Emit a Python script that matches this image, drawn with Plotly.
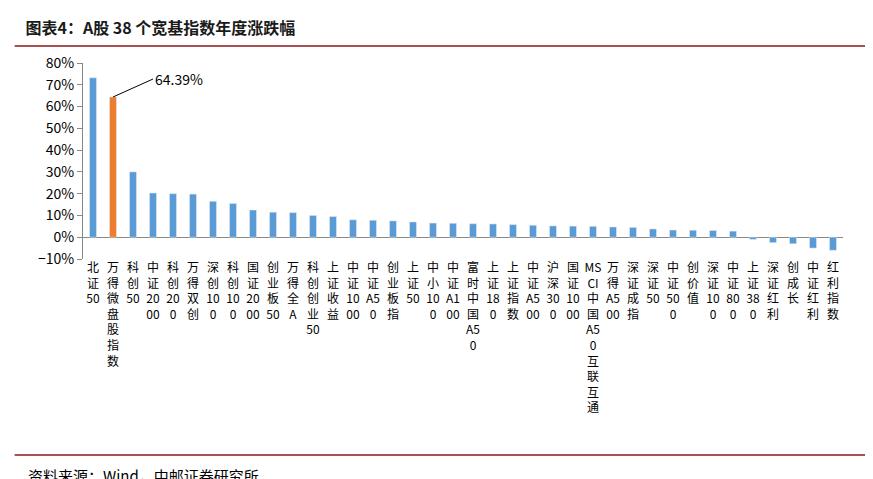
import re
import plotly.graph_objects as go

categories = ["北证50","万得微盘股指数","科创50","中证2000","科创200","万得双创","深创100","科创100","国证2000","创业板50","万得全A","科创创业50","上证收益","中证1000","中证A50","创业板指","上证50","中小100","中证A100","富时中国A50","上证180","上证指数","中证A500","沪深300","国证1000","MSCI中国A50互联互通","万得A500","深证成指","深证50","中证500","创价值","深证100","中证800","上证380","深证红利","创成长","中证红利","红利指数"]
values = [73.2,64.39,30,20.3,20,19.8,16.5,15.5,12.5,11.5,11.3,10,9.5,8,7.8,7.5,7,6.5,6.4,6.2,6.1,5.8,5.5,5.2,5.1,5,4.7,4.5,3.8,3.3,3.2,3.1,2.8,-1,-2.5,-3,-5,-6]
highlight = "万得微盘股指数"

def stack(c):
    parts = []
    for tok in re.findall(r"[A-Za-z0-9]+|.", c):
        if re.match(r"[A-Za-z0-9]", tok):
            parts += [tok[i:i+2] for i in range(0, len(tok), 2)]
        else:
            parts.append(tok)
    return "<br>".join(parts)

labels = [stack(c) for c in categories]
colors = ["#ED7D31" if c == highlight else "#5B9BD5" for c in categories]

fig = go.Figure(go.Bar(x=labels, y=values, marker_color=colors, width=0.35))
hi = categories.index(highlight)
fig.update_layout(
    width=873, height=479, plot_bgcolor="white", paper_bgcolor="white",
    margin=dict(l=75, r=38, t=55, b=228),
    font=dict(family="Noto Sans CJK SC, Liberation Sans", size=12, color="black"),
    showlegend=False, bargap=0.5,
    title=dict(text="<b>图表4：A股 38 个宽基指数年度涨跌幅</b>", x=0.02, y=0.958, xanchor="left",
               yanchor="middle", font=dict(size=16, color="#1a1a1a")),
    xaxis=dict(tickangle=0, tickfont=dict(size=12), showline=False, ticks=""),
    yaxis=dict(range=[-10, 80], dtick=10, ticksuffix="%", showgrid=False, zeroline=True,
               zerolinecolor="#888", zerolinewidth=1, showline=True, linecolor="#888",
               ticks="outside", tickcolor="#888", tickfont=dict(size=14)),
    shapes=[dict(type="line", xref="paper", yref="paper", x0=-0.09, x1=1.05, y0=1.087, y1=1.087,
                 line=dict(color="#8B1A1A", width=1.5)),
            dict(type="line", xref="paper", yref="paper", x0=-0.09, x1=1.05, y0=-1.0, y1=-1.0,
                 line=dict(color="#8B1A1A", width=1.5))],
    annotations=[dict(text="资料来源：Wind，中邮证券研究所", xref="paper", yref="paper", x=-0.075, y=-1.04,
                      xanchor="left", yanchor="top", showarrow=False, font=dict(size=15))],
)
fig.add_annotation(x=labels[hi], y=values[hi], text=f"{values[hi]:.2f}%", showarrow=True,
                   arrowhead=0, arrowwidth=1, arrowcolor="black", ax=40, ay=-18, xanchor="left",
                   font=dict(size=14, color="black"))
fig.write_html("out.html")
